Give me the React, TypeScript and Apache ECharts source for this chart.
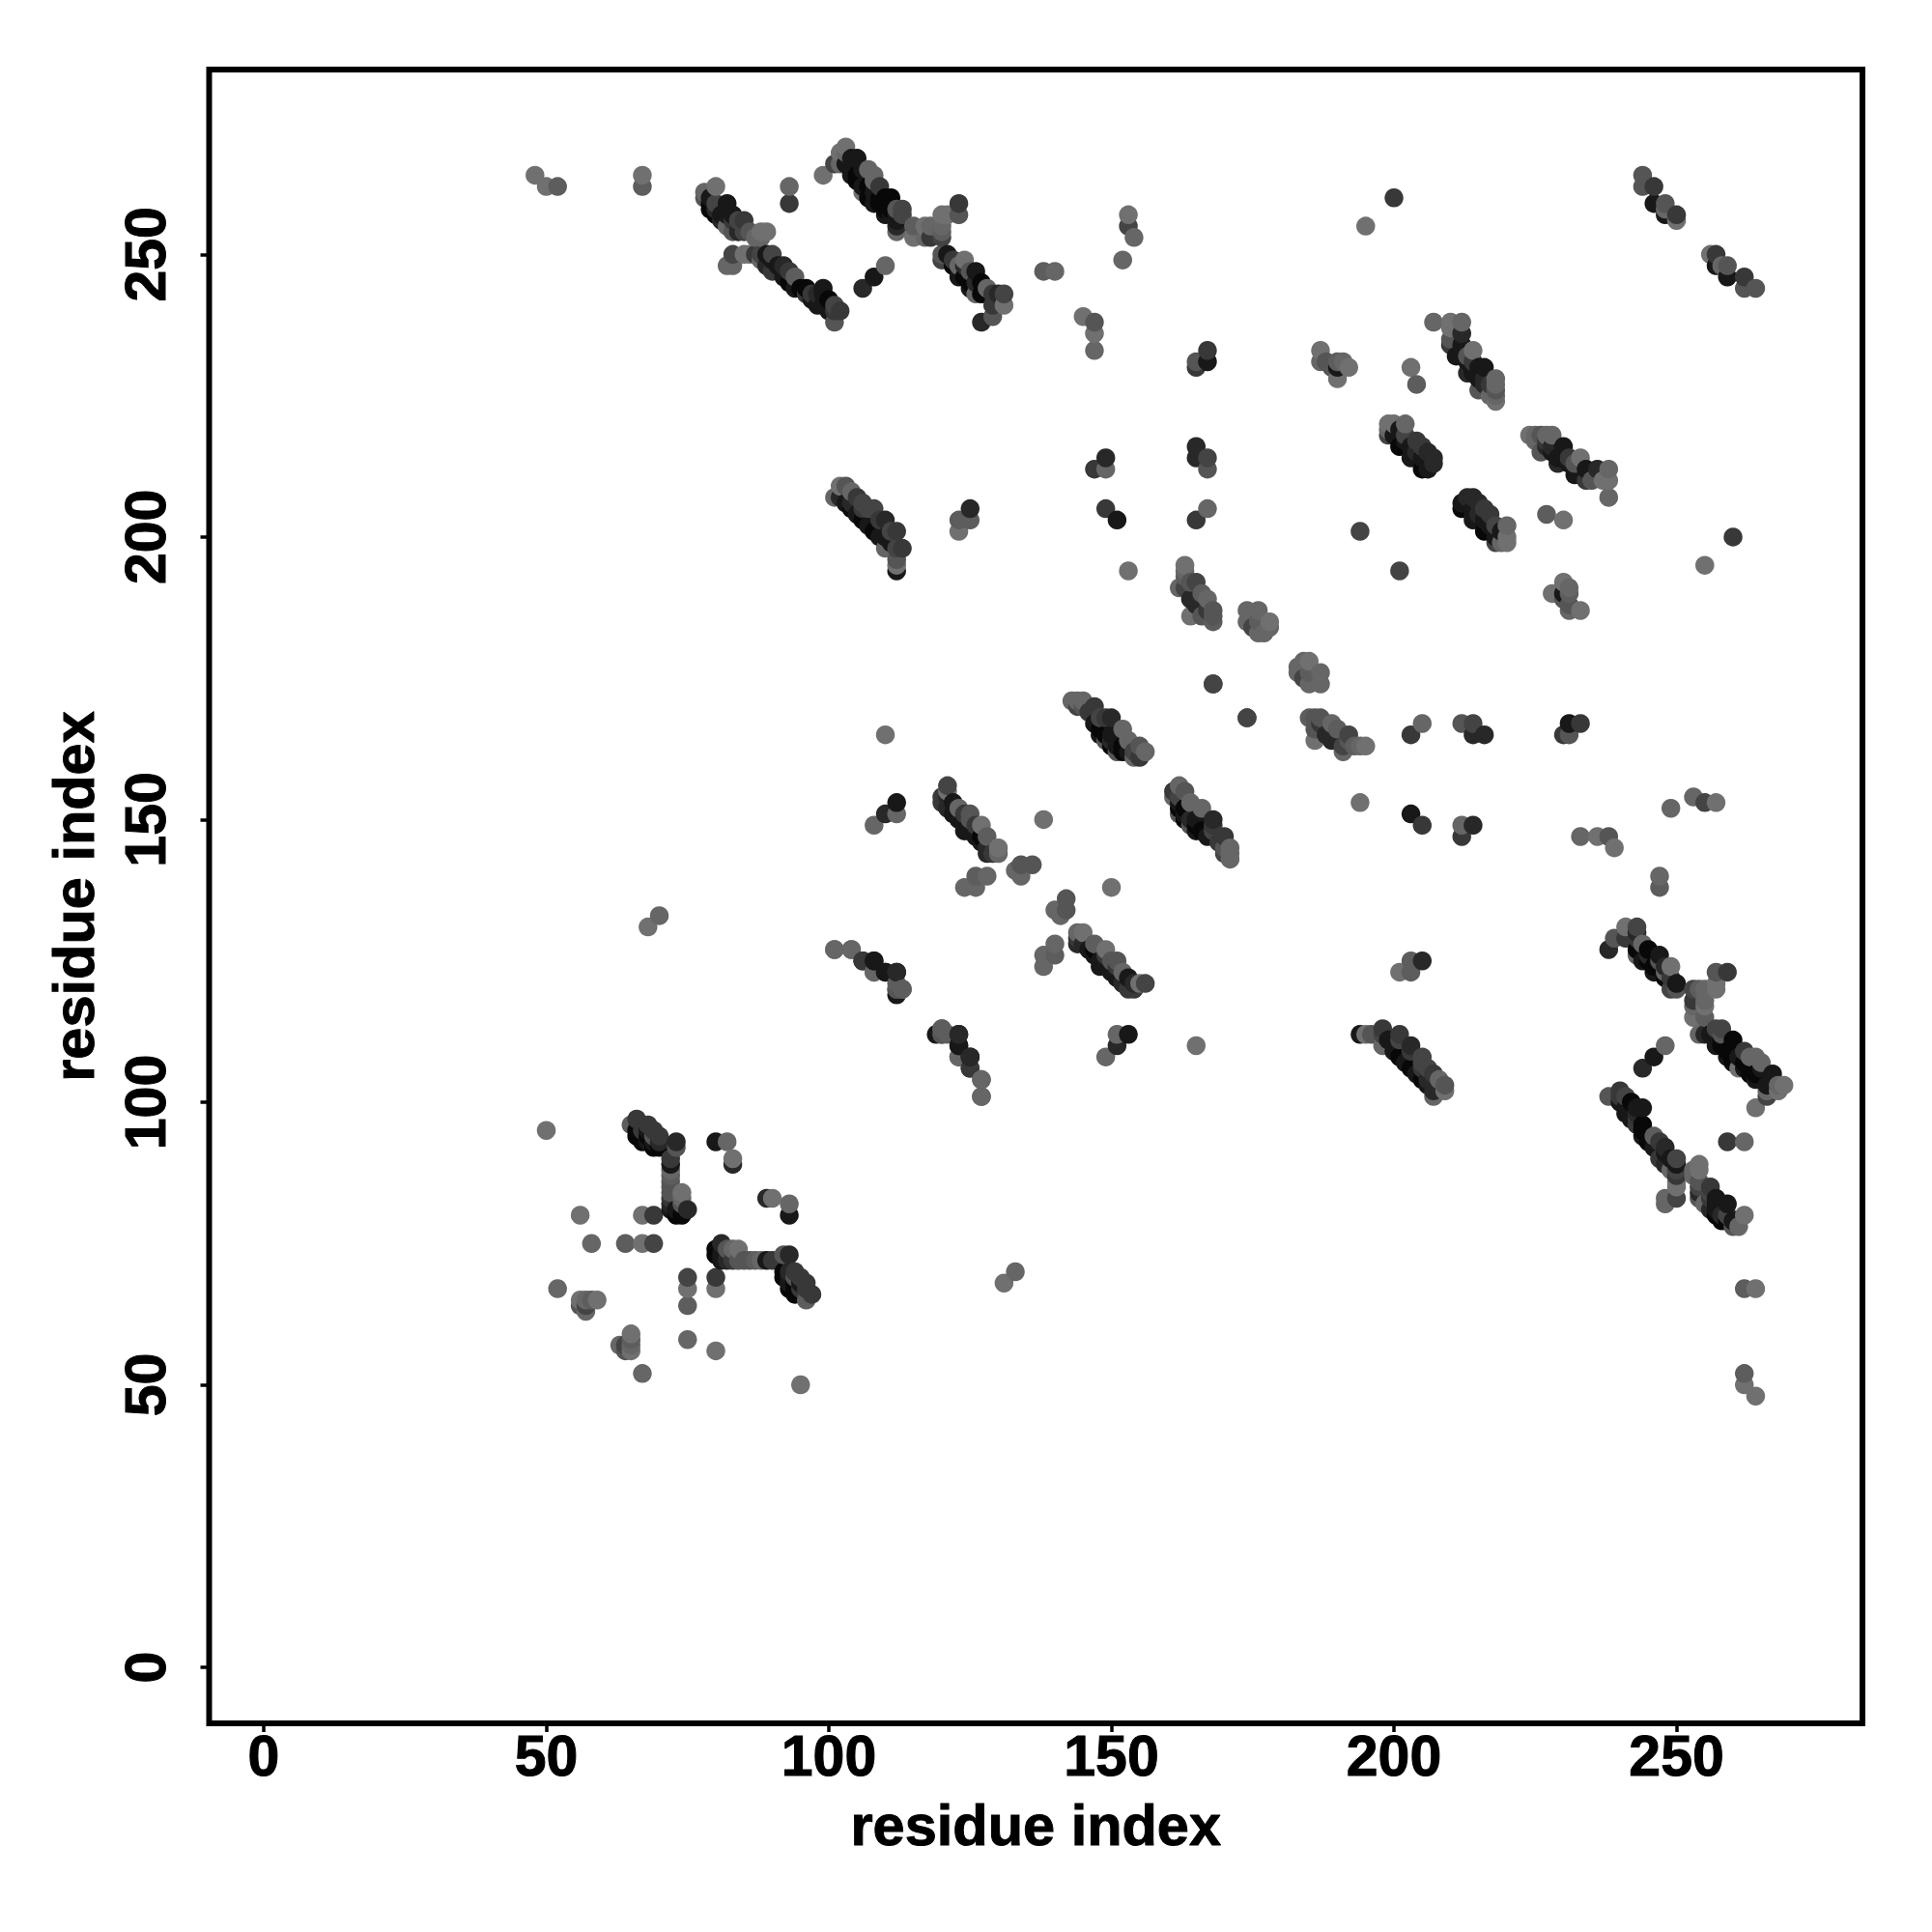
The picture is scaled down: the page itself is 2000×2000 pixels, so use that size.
import React, { useEffect, useRef } from "react";
import * as echarts from "echarts";

// Contact map: each contact is [residue i, residue j, shade level]. The map is symmetric,
// so only the i < j half is listed and the mirrored half is added below.
const FONT = "'Liberation Sans', Arial, sans-serif";
const tickValues = [0, 50, 100, 150, 200, 250];
const shadeLevels = ["#080808", "#181818", "#282828", "#383838", "#444444", "#555555", "#5d5d5d", "#666666", "#707070"];

const lowerLeft = [[50,95,8],[66,97,3],[65,96,6],[67,96,3],[68,96,3],[67,95,3],[68,95,1],[69,95,3],[68,94,0],[69,94,5],[70,94,3],[66,95,0],[66,94,0],[67,94,0],[67,93,0],[68,93,1],[69,93,1],[69,92,0],[70,92,0],[70,93,2],[73,93,2],[73,92,5],[72,90,3],[72,89,1],[72,88,7],[72,87,6],[72,86,5],[72,85,5],[72,84,5],[72,83,3],[72,82,2],[72,81,1],[74,84,8],[74,83,7],[74,82,5],[75,81,2],[73,81,1],[73,80,0],[74,80,0],[80,93,1],[82,93,7],[83,90,8],[83,89,2],[56,80,8],[67,80,8],[69,80,3],[58,75,7],[64,75,6],[67,75,8],[69,75,4],[52,67,7],[56,65,8],[57,65,7],[58,65,6],[59,65,8],[56,64,5],[57,64,4],[57,63,7],[68,131,8],[70,133,7]];
const farSingles = [[48,264,8],[50,262,8],[52,262,6],[67,264,8],[67,262,6],[93,262,7],[93,259,3],[99,264,8],[106,244,2],[108,246,1],[110,248,7]];
const bandOne = [[80,262,8],[78,261,7],[78,260,5],[79,260,1],[79,259,0],[79,258,0],[80,259,4],[80,258,2],[80,257,0],[81,257,1],[81,256,2],[82,259,1],[82,257,1],[82,255,7],[83,257,1],[83,256,3],[84,256,4],[84,254,2],[85,256,3],[83,254,5],[85,254,4],[86,254,5],[88,254,8],[89,254,8],[87,253,7],[88,253,7],[83,250,4],[82,248,7],[83,248,7],[85,250,8],[86,250,8],[87,250,3],[88,250,4],[89,250,1],[90,250,4],[90,249,1],[88,249,7],[89,248,2],[90,247,3],[91,248,1],[92,248,2],[92,246,1],[93,247,3],[93,245,0],[94,246,6],[94,244,1],[95,244,0],[96,244,0],[96,243,3],[97,243,3],[97,242,1],[98,243,2],[98,241,1],[99,244,1],[99,243,1],[99,241,1],[100,242,0],[100,240,1],[101,241,4],[101,240,3],[102,240,3],[101,238,5]];
const bandTwo = [[103,269,8],[102,268,8],[103,268,7],[101,266,4],[102,266,7],[103,266,1],[104,267,1],[105,267,1],[104,264,1],[105,264,0],[105,263,0],[106,265,1],[106,262,1],[106,261,8],[107,265,7],[107,262,0],[107,260,0],[108,264,7],[108,263,7],[108,261,1],[108,259,1],[109,262,3],[109,260,0],[109,259,0],[110,260,0],[111,260,0],[110,258,0],[110,257,1],[111,258,0],[111,257,1],[112,258,5],[112,257,1],[112,256,1],[113,258,4],[113,257,4],[112,255,2],[112,254,7]];
const bridge = [[115,255,6],[115,253,8],[117,255,8],[117,253,7],[118,255,7],[118,253,3],[120,257,8],[121,257,8],[120,255,7],[120,254,6],[120,253,4],[123,259,3],[123,257,5]];
const bandThree = [[121,250,1],[120,249,4],[120,250,5],[122,249,3],[122,248,0],[124,249,8],[124,248,2],[124,246,0],[123,248,7],[123,246,1],[125,247,5],[125,245,0],[126,247,1],[126,245,2],[127,245,0],[125,244,1],[126,243,7],[127,243,0],[128,244,7],[129,243,3],[130,243,2],[131,243,4],[131,241,8],[129,241,3],[129,239,5],[127,238,2],[138,247,6],[140,247,7]];
const clusterA = [[101,207,7],[102,209,8],[103,209,5],[104,208,7],[105,207,3],[106,206,4],[107,205,4],[108,205,4],[102,207,2],[103,206,1],[104,206,2],[104,205,0],[106,205,3],[106,203,0],[105,204,1],[107,202,1],[108,201,0],[109,203,3],[109,200,1],[110,203,2],[110,200,1],[111,201,4],[111,199,1],[112,201,3],[110,198,7],[112,198,4],[113,198,3],[112,196,5],[112,195,8],[112,194,1],[125,205,2],[123,203,6],[125,203,6],[123,201,8]];
const clusterB = [[143,171,7],[144,171,7],[145,171,7],[144,170,4],[145,170,5],[146,169,3],[147,170,3],[148,168,4],[148,166,0],[148,165,1],[149,168,3],[150,168,2],[147,167,1],[152,166,7],[149,165,0],[149,164,5],[150,165,1],[150,164,2],[150,163,0],[153,164,7],[151,163,1],[152,163,0],[152,162,0],[155,163,5],[151,162,5],[153,162,1],[154,162,4],[156,162,7],[154,161,7],[155,161,3]];
const clusterC = [[121,156,4],[121,155,8],[120,154,3],[121,154,2],[120,153,3],[121,152,2],[122,153,1],[122,151,1],[123,152,7],[124,151,3],[125,151,5],[123,150,1],[124,150,1],[125,150,5],[125,148,1],[126,149,3],[127,149,8],[124,148,1],[126,147,1],[127,147,0],[127,146,1],[128,147,6],[128,145,2],[130,145,8],[128,144,2],[129,144,3],[130,144,7],[108,149,7],[110,151,2],[112,151,7],[112,153,1],[110,165,8],[138,150,8]];
const smallLinks = [[101,127,7],[104,127,7],[106,125,3],[108,125,2],[108,123,7],[110,123,1],[112,123,2],[112,120,5],[112,119,1],[113,120,6],[120,113,6],[120,112,5],[121,112,6],[123,112,2],[123,110,1],[123,108,7],[125,108,1],[125,106,3],[127,104,7],[127,101,7],[124,138,7],[126,138,7],[126,140,6],[128,140,7],[133,141,7],[134,140,7],[134,142,5],[136,142,5]];
const centerRight = [[167,233,3],[167,231,1],[165,231,5],[165,230,3],[165,216,2],[165,214,2],[167,214,4],[167,212,5],[167,205,7],[165,203,3],[149,214,2],[147,212,3],[149,212,7],[149,205,3],[151,203,1],[153,194,8],[153,257,8],[153,255,4],[154,253,7],[152,249,7],[145,239,8],[147,238,5],[147,236,8],[147,233,7],[168,174,4],[174,168,4],[194,201,4],[195,255,8],[200,260,3],[203,230,8],[204,227,6]];
const clusterD = [[163,195,8],[163,194,7],[163,193,6],[162,191,7],[163,191,4],[164,192,5],[165,192,4],[166,190,6],[164,189,2],[165,188,2],[167,189,7],[167,187,3],[164,186,8],[166,186,5],[168,187,5],[168,186,5],[168,185,6],[174,187,7],[176,187,7],[174,185,7],[176,185,6],[175,184,4],[176,183,7],[177,183,7],[178,185,8],[178,184,7]];
const clusterE = [[187,233,8],[187,231,7],[188,231,5],[190,231,6],[191,231,7],[189,230,5],[190,230,1],[192,230,8],[190,228,8]];
const bandF = [[207,238,7],[210,238,8],[212,238,7],[210,237,8],[212,236,2],[210,235,5],[210,234,3],[212,234,1],[211,232,1],[213,232,5],[213,231,1],[214,233,8],[214,231,3],[214,230,1],[214,229,1],[213,229,2],[215,230,1],[216,230,1],[215,228,1],[216,228,2],[216,227,2],[217,227,3],[215,226,5],[217,225,7],[218,228,7],[218,227,7],[218,226,5],[218,225,7],[218,224,8]];
const bandG = [[199,220,8],[200,220,8],[202,220,7],[199,219,7],[199,218,4],[200,218,1],[201,219,1],[202,218,4],[202,217,1],[203,216,1],[204,217,3],[201,216,0],[204,215,2],[204,214,1],[205,216,3],[205,214,1],[206,215,2],[203,214,1],[207,214,2],[207,213,2],[205,212,0],[206,212,1]];
const cornerBand = [[244,264,5],[244,262,5],[246,262,3],[246,259,1],[248,259,5],[248,258,7],[248,257,1],[250,257,3],[250,256,8]];

const upperHalf = [...lowerLeft, ...farSingles, ...bandOne, ...bandTwo, ...bridge, ...bandThree, ...clusterA, ...clusterB, ...clusterC, ...smallLinks, ...centerRight, ...clusterD, ...clusterE, ...bandF, ...bandG, ...cornerBand];
const contacts = [...upperHalf, ...upperHalf.map(([i, j, s]) => [j, i, s])].sort((a, b) => a[0] - b[0] || a[1] - b[1]);

export default function App() {
  const ref = useRef<HTMLDivElement>(null);
  useEffect(() => {
    const chart = echarts.init(ref.current!, null, { renderer: "svg", width: 2000, height: 2000 });
    const heavy = { textBorderColor: "#000", textBorderWidth: 1 };
    const axisBase = {
      type: "value",
      name: "residue index",
      nameLocation: "middle",
      nameTextStyle: { fontFamily: FONT, fontWeight: "bold", fontSize: 59.5, color: "#000", ...heavy },
      splitLine: { show: false },
      axisLine: { show: false, onZero: false },
      axisTick: { show: true, length: 9, lineStyle: { color: "#000", width: 3.5 }, customValues: tickValues },
    };
    const labelBase = { fontFamily: FONT, fontWeight: "bold", fontSize: 59, color: "#000", customValues: tickValues, ...heavy };
    chart.setOption({
      animation: false,
      backgroundColor: "#fff",
      grid: { left: 216.5, right: 72, top: 72, bottom: 216, show: true, borderColor: "#000", borderWidth: 6, backgroundColor: "transparent" },
      xAxis: { ...axisBase, min: -9.66, max: 282.9, nameGap: 75, axisLabel: { ...labelBase, margin: 4 } },
      yAxis: { ...axisBase, min: -9.9, max: 282.7, nameGap: 110, axisLabel: { ...labelBase, rotate: 90, margin: 36 } },
      series: [{
        type: "scatter",
        data: contacts,
        symbol: "circle",
        symbolSize: 19.5,
        large: false,
        progressive: 0,
        itemStyle: { opacity: 1, color: (p: any) => shadeLevels[p.data[2]] },
      }],
    });
    return () => chart.dispose();
  }, []);
  return <div ref={ref} style={{ position: "absolute", left: 0, top: 0, width: 2000, height: 2000 }} />;
}
